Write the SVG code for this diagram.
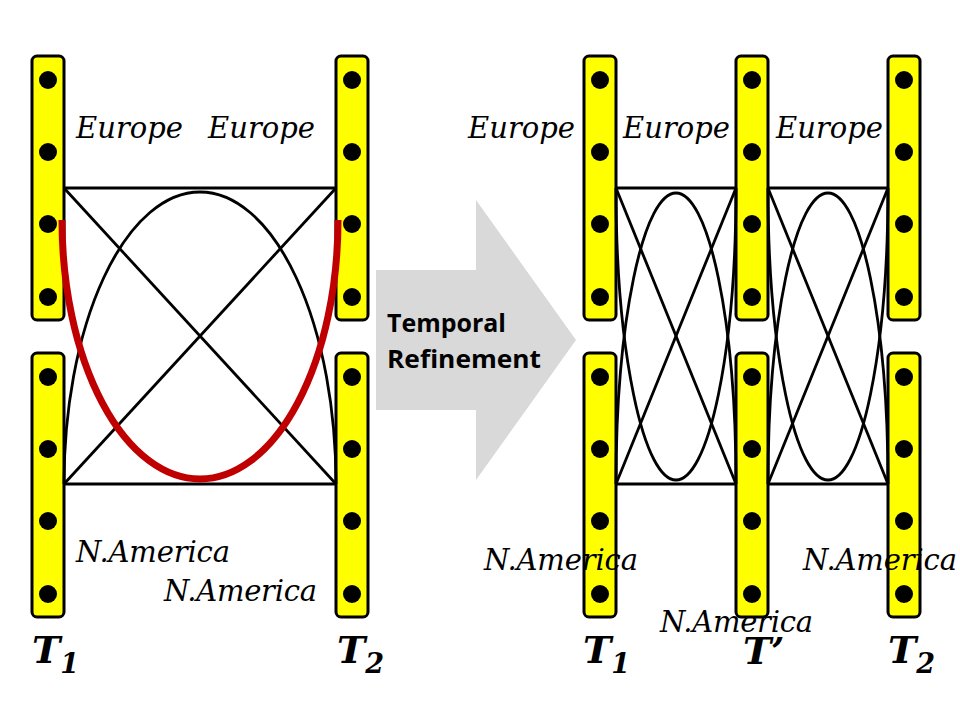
<svg xmlns="http://www.w3.org/2000/svg" width="960" height="720" viewBox="0 0 960 720">
<defs>
<style>
.bar{fill:#ffff00;stroke:#000;stroke-width:3}
.dot{fill:#000}
.ln{fill:none;stroke:#000;stroke-width:2.8}
.red{fill:none;stroke:#c00000;stroke-width:7}
.lbl{font-family:"DejaVu Serif","Liberation Serif",serif;font-style:italic;font-size:29px;fill:#000}
.tl{font-family:"DejaVu Serif","Liberation Serif",serif;font-style:italic;font-weight:bold;font-size:38px;fill:#000}
.sub{font-size:27px}
.arrtxt{font-family:"Open Sans","Liberation Sans",sans-serif;font-weight:bold;font-size:25px;fill:#000}
</style>
<g id="barproto">
<rect class="bar" x="0" y="0" width="32" height="264" rx="5"/>
<circle class="dot" cx="16" cy="24" r="9"/>
<circle class="dot" cx="16" cy="96" r="9"/>
<circle class="dot" cx="16" cy="168" r="9"/>
<circle class="dot" cx="16" cy="241" r="9"/>
</g>
</defs>
<rect width="960" height="720" fill="#fff"/>

<g id="arrow">
<polygon points="376,270 476,270 476,200 576,340 476,480 476,410 376,410" fill="#d9d9d9"/>
<text class="arrtxt" x="387" y="332" textLength="119" lengthAdjust="spacingAndGlyphs">Temporal</text>
<text class="arrtxt" x="387" y="368" textLength="154" lengthAdjust="spacingAndGlyphs">Refinement</text>
</g>

<g id="left-T1-top"><use href="#barproto" x="32" y="56"/></g>
<g id="left-T1-bottom"><use href="#barproto" x="32" y="353"/></g>
<g id="left-T2-top"><use href="#barproto" x="336" y="56"/></g>
<g id="left-T2-bottom"><use href="#barproto" x="336" y="353"/></g>
<g id="right-T1-top"><use href="#barproto" x="584" y="56"/></g>
<g id="right-T1-bottom"><use href="#barproto" x="584" y="353"/></g>
<g id="right-Tp-top"><use href="#barproto" x="736" y="56"/></g>
<g id="right-Tp-bottom"><use href="#barproto" x="736" y="353"/></g>
<g id="right-T2-top"><use href="#barproto" x="888" y="56"/></g>
<g id="right-T2-bottom"><use href="#barproto" x="888" y="353"/></g>

<g id="connectors">
<line class="ln" x1="64" y1="188" x2="336" y2="188"/>
<line class="ln" x1="64" y1="484" x2="336" y2="484"/>
<line class="ln" x1="64" y1="188" x2="336" y2="484"/>
<line class="ln" x1="336" y1="188" x2="64" y2="484"/>
<path class="ln" d="M64,484 A136,292 0 0 1 336,484"/>
<path class="red" d="M62,220 A138,259 0 0 0 338,220"/>

<line class="ln" x1="616" y1="188" x2="736" y2="188"/>
<line class="ln" x1="616" y1="484" x2="736" y2="484"/>
<line class="ln" x1="616" y1="188" x2="736" y2="484"/>
<line class="ln" x1="736" y1="188" x2="616" y2="484"/>
<path class="ln" d="M616,484 A60,291 0 0 1 736,484"/>
<path class="ln" d="M616,188 A60,292 0 0 0 736,188"/>

<line class="ln" x1="768" y1="188" x2="888" y2="188"/>
<line class="ln" x1="768" y1="484" x2="888" y2="484"/>
<line class="ln" x1="768" y1="188" x2="888" y2="484"/>
<line class="ln" x1="888" y1="188" x2="768" y2="484"/>
<path class="ln" d="M768,484 A60,291 0 0 1 888,484"/>
<path class="ln" d="M768,188 A60,292 0 0 0 888,188"/>
</g>

<g id="labels">
<text class="lbl" x="76" y="138" textLength="107" lengthAdjust="spacing">Europe</text>
<text class="lbl" x="208" y="138" textLength="107" lengthAdjust="spacing">Europe</text>
<text class="lbl" x="468" y="138" textLength="107" lengthAdjust="spacing">Europe</text>
<text class="lbl" x="623" y="138" textLength="107" lengthAdjust="spacing">Europe</text>
<text class="lbl" x="776" y="138" textLength="107" lengthAdjust="spacing">Europe</text>
<text class="lbl" x="76" y="562" textLength="154" lengthAdjust="spacing">N.America</text>
<text class="lbl" x="164" y="601" textLength="153" lengthAdjust="spacing">N.America</text>
<text class="lbl" x="484" y="570" textLength="154" lengthAdjust="spacing">N.America</text>
<text class="lbl" x="660" y="632" textLength="153" lengthAdjust="spacing">N.America</text>
<text class="lbl" x="803" y="570" textLength="154" lengthAdjust="spacing">N.America</text>
<text class="tl" x="583" y="663">T<tspan class="sub" dy="10">1</tspan></text>
<text class="tl" x="32" y="663">T<tspan class="sub" dy="10">1</tspan></text>
<text class="tl" x="337" y="663">T<tspan class="sub" dy="10">2</tspan></text>
<text class="tl" x="743" y="664">T’</text>
<text class="tl" x="888" y="663">T<tspan class="sub" dy="10">2</tspan></text>
</g>
</svg>
